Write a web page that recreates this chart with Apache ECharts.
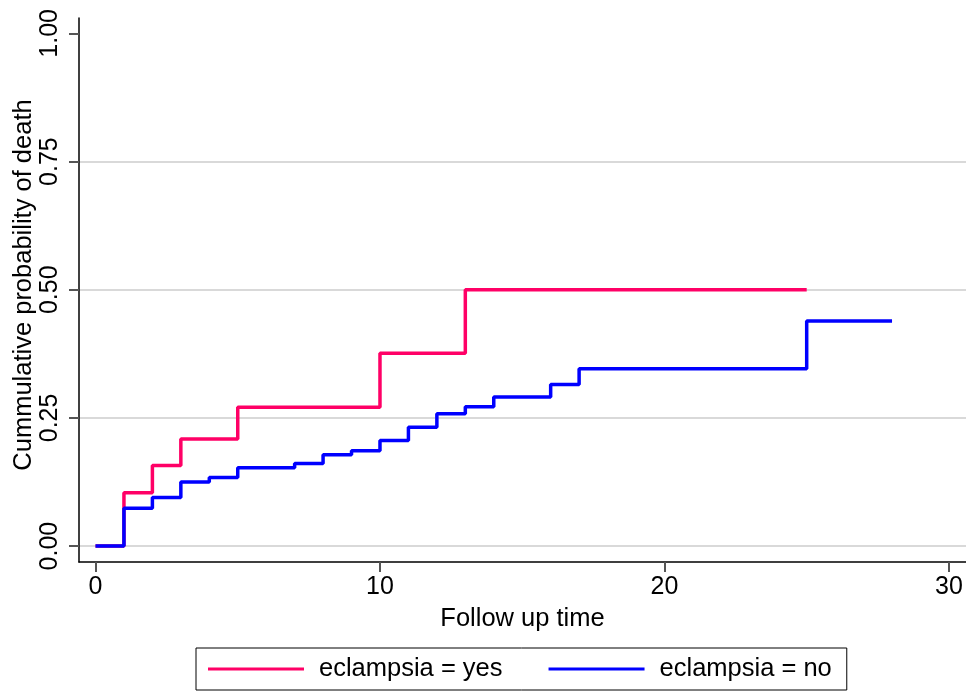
<!DOCTYPE html>
<html>
<head>
<meta charset="utf-8">
<script src="https://cdn.jsdelivr.net/npm/echarts@6/dist/echarts.min.js"></script>
<style>
html, body { margin: 0; padding: 0; background: #fff; }
#chart { width: 966px; height: 693px; }
</style>
</head>
<body>
<div id="chart"></div>
<script>
let chart = echarts.init(document.getElementById('chart'))

// Kaplan-Meier failure curves (time, cumulative probability)
let yesTime = [0, 1, 2, 3, 5, 10, 13, 25]
let yesProb = [0, 0.104, 0.157, 0.209, 0.271, 0.376, 0.5, 0.5]
let noTime = [0, 1, 2, 3, 4, 5, 7, 8, 9, 10, 11, 12, 13, 14, 16, 17, 25, 28]
let noProb = [0, 0.074, 0.095, 0.125, 0.134, 0.153, 0.161, 0.178, 0.186, 0.206, 0.232, 0.258, 0.272, 0.291, 0.315, 0.346, 0.439, 0.439]
let xTicks = [0, 10, 20, 30]
let yTicks = [0, 0.25, 0.5, 0.75, 1]
let seriesNames = ['eclampsia = yes', 'eclampsia = no']

let font = "'Liberation Sans', Arial, sans-serif"

function pairs(t, v) {
	let out = []
	for (let i = 0; i < t.length; i++) {
		out.push([t[i], v[i]])
	}
	return out
}

let option = {
	animation: false,
	textStyle: { fontFamily: font },
	grid: {
		left: 79,
		right: 0,
		top: 18,
		bottom: 131,
		containLabel: false,
		outerBoundsMode: 'none'
	},
	xAxis: {
		type: 'value',
		min: -0.58,
		max: 30.6,
		name: 'Follow up time',
		nameLocation: 'middle',
		nameGap: 44,
		nameMoveOverlap: false,
		nameTextStyle: { color: '#000', fontSize: 25.5, fontFamily: font },
		axisLine: { onZero: false, lineStyle: { color: '#000', width: 1.5 } },
		axisTick: { customValues: xTicks, length: 10, lineStyle: { color: '#555', width: 2 } },
		axisLabel: { customValues: xTicks, margin: 13, color: '#000', fontSize: 25, fontFamily: font },
		splitLine: { show: false }
	},
	yAxis: {
		type: 'value',
		min: -0.031,
		max: 1.03,
		name: 'Cummulative probability of death',
		nameLocation: 'middle',
		nameGap: 42,
		nameMoveOverlap: false,
		nameTextStyle: { color: '#000', fontSize: 25.5, fontFamily: font, padding: [0, 0, 0, 10] },
		axisLine: { show: true, onZero: false, lineStyle: { color: '#000', width: 1.5 } },
		axisTick: { show: true, customValues: yTicks, length: 10, lineStyle: { color: '#555', width: 2 } },
		axisLabel: {
			customValues: yTicks,
			rotate: 90,
			margin: 16,
			color: '#000',
			fontSize: 25,
			fontFamily: font,
			formatter: function(v) { return v.toFixed(2) }
		},
		splitLine: {
			show: true,
			lineStyle: { color: ['#d9d9d9', '#d9d9d9', '#d9d9d9', '#d9d9d9', 'rgba(0,0,0,0)'], width: 2 }
		}
	},
	legend: {
		left: 196,
		top: 648,
		orient: 'horizontal',
		padding: [8, 15, 8, 12],
		borderColor: '#000',
		borderWidth: 1,
		icon: 'rect',
		itemWidth: 96,
		itemHeight: 3,
		itemGap: 46,
		textStyle: { color: '#000', fontSize: 25.5, fontFamily: font, padding: [0, 0, 0, 10] },
		data: seriesNames
	},
	series: [{
			name: seriesNames[0],
			type: 'line',
			step: 'end',
			symbol: 'none',
			lineStyle: { color: '#ff0066', width: 3.5 },
			itemStyle: { color: '#ff0066' },
			data: pairs(yesTime, yesProb)
		},
		{
			name: seriesNames[1],
			type: 'line',
			step: 'end',
			symbol: 'none',
			lineStyle: { color: '#0000ff', width: 3.5 },
			itemStyle: { color: '#0000ff' },
			data: pairs(noTime, noProb)
		}
	]
}

chart.setOption(option)
</script>
</body>
</html>
